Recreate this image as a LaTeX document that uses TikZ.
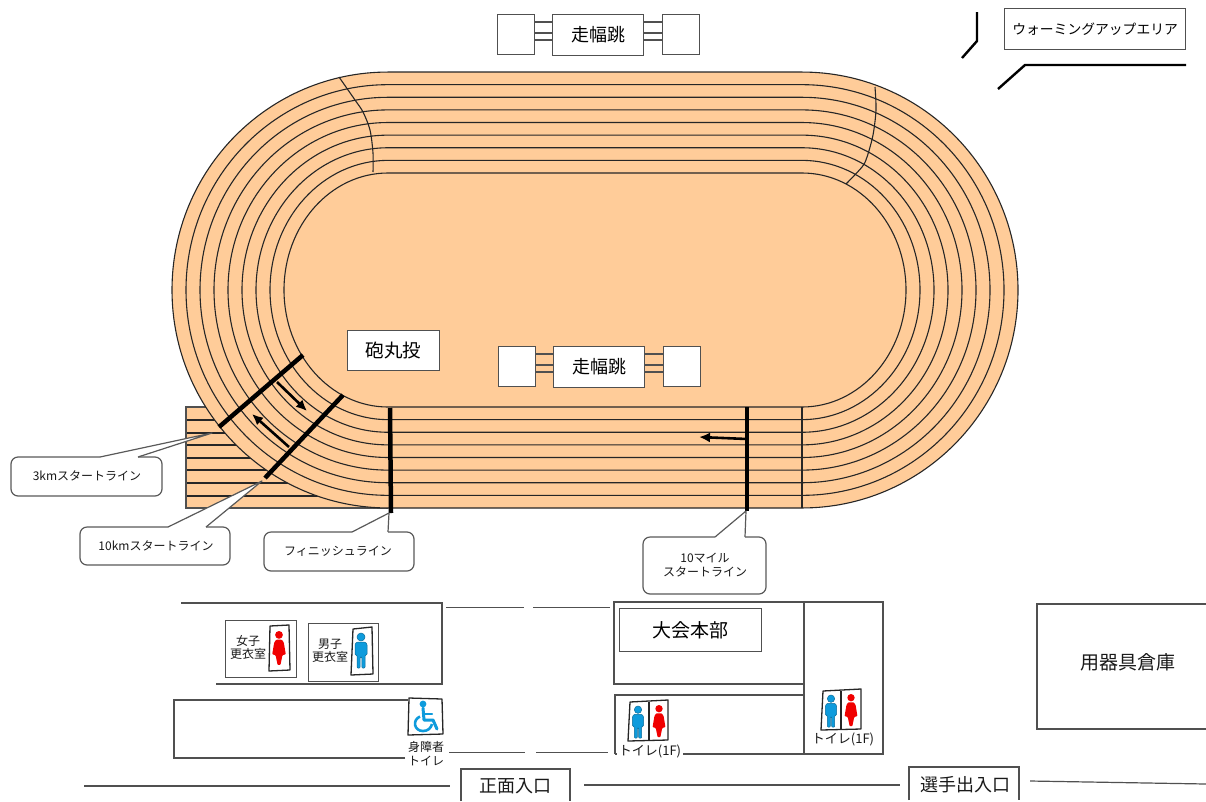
\documentclass[tikz,border=0pt]{standalone}
\usepackage{fontspec}
\setmainfont{Noto Sans CJK JP}
\usetikzlibrary{arrows.meta}
\definecolor{track}{HTML}{FFCC99}
\definecolor{wall}{HTML}{505050}
\definecolor{manblue}{HTML}{0E9BDC}
\definecolor{wred}{HTML}{F00000}
\tikzset{
  lane/.style={draw=black!85,line width=1.1pt},
  wallline/.style={draw=wall,line width=1.2pt},
  boxed/.style={draw=wall,fill=white,line width=1.2pt},
  label/.style={inner sep=0pt,align=center,text=black!90},
  sketch/.style={draw=black!85,line width=1.3pt,line join=round},
  thickbar/.style={draw=black,line width=4.5pt},
  runarrow/.style={draw=black,line width=2.6pt,-{Latex[length=11pt,width=10pt]}},
  bubble/.style={draw=black!65,fill=white,line width=1.2pt,line join=round},
}
\newcommand{\fs}[1]{\fontsize{#1}{#1}\selectfont}
\newcommand{\personman}[3]{\begin{scope}[shift={(#1,#2)},x=#3pt,y=-#3pt]
  \fill[manblue,draw=manblue!70!black,line width=.5pt] (0,4) circle[radius=4];
  \fill[manblue,draw=manblue!70!black,line width=.5pt,rounded corners=1pt]
    (-4,9)--(4,9)--(6,11)--(6,22)--(4,22)--(4,35)--(.8,35)--(.8,24)--(-.8,24)--(-.8,35)--(-4,35)--(-4,22)--(-6,22)--(-6,11)--cycle;
\end{scope}}
\newcommand{\personwoman}[3]{\begin{scope}[shift={(#1,#2)},x=#3pt,y=-#3pt]
  \fill[wred] (0,4) circle[radius=4];
  \fill[wred,rounded corners=.8pt]
    (-3,9)--(3,9)--(5,12)--(7,24)--(3.5,25)--(1.5,35)--(-1.5,35)--(-3.5,25)--(-7,24)--(-5,12)--cycle;
\end{scope}}
\newcommand{\jumpunit}[3]{%
  \begin{scope}[shift={(#1,#2)}]
  \draw[wallline] (36,8)--(56,8) (36,19)--(56,19) (36,26)--(56,26);
  \draw[wallline] (147,8)--(165,8) (147,19)--(165,19) (147,26)--(165,26);
  \node[boxed,minimum width=37pt,minimum height=40pt,inner sep=0pt,anchor=north west] (#3l) at (0,0) {};
  \node[boxed,minimum width=37pt,minimum height=40pt,inner sep=0pt,anchor=north west] (#3r) at (165,0) {};
  \node[boxed,minimum width=91pt,minimum height=41pt,inner sep=0pt,anchor=north west,font=\fs{18}] (#3) at (55,0) {走幅跳};
  \end{scope}}
\begin{document}
\begin{tikzpicture}[x=1pt,y=-1pt]
\useasboundingbox (0,0) rectangle (1206,801);
% straight extension
\fill[track] (186,407) rectangle (388,508);
\foreach \yy in {420,433,445,458,470,483,496}{\draw[lane] (186,\yy)--(388,\yy);}
\draw[wallline] (388,407)--(186,407)--(186,508)--(388,508);
% track body
\fill[track] (802,72) arc[start angle=-90,end angle=90,x radius=216,y radius=218]
  -- (388,508) arc[start angle=90,end angle=270,x radius=216,y radius=218] -- cycle;
\foreach \i in {0,...,8}{
  \pgfmathsetmacro{\rx}{104+14*\i}
  \pgfmathsetmacro{\ry}{117+12.62*\i}
  \draw[lane] (802,290-\ry) arc[start angle=-90,end angle=90,x radius=\rx,y radius=\ry]
    -- (388,290+\ry) arc[start angle=90,end angle=270,x radius=\rx,y radius=\ry] -- cycle;
}
\draw[lane] (802,407)--(802,508);
% stagger curves
\draw[lane] plot[smooth] coordinates {(339,77)(355,100)(363,112)(370,130)(373,153)(373,172)};
\draw[lane] plot[smooth] coordinates {(875,87)(876,110)(873,135)(867,157)(862,167)(846,184)};
% start lines
\coordinate (k3a) at (219,427); \coordinate (k3b) at (303,355);
\coordinate (k10a) at (265,478); \coordinate (k10b) at (343,395);
\coordinate (fina) at (390,408); \coordinate (finb) at (391,513);
\coordinate (milea) at (747,407); \coordinate (mileb) at (747,511);
\draw[thickbar] (k3a)--(k3b);
\draw[thickbar] (k10a)--(k10b);
\draw[thickbar] (fina)--(finb);
\draw[thickbar] (milea)--(mileb);
% running arrows
\coordinate (ra1) at (277,382); \coordinate (ra2) at (307,411);
\coordinate (rb1) at (289,447); \coordinate (rb2) at (252,414);
\coordinate (rc1) at (747,439); \coordinate (rc2) at (699,437);
\draw[runarrow] (ra1)--(ra2);
\draw[runarrow] (rb1)--(rb2);
\draw[runarrow] (rc1)--(rc2);
% field events
\node[boxed,minimum width=92pt,minimum height=40pt,inner sep=0pt,anchor=north west,font=\fs{18.5}] (shot) at (347,330) {砲丸投};
\jumpunit{497}{14}{jumpa}
\jumpunit{498}{346}{jumpb}
% warm up
\node[boxed,minimum width=181pt,minimum height=41pt,inner sep=0pt,anchor=north west,font=\fs{13.8}] (warm) at (1004,8) {ウォーミングアップエリア};
\draw[draw=black,line width=2.4pt] (977,12)--(977,41)--(962,58);
\draw[draw=black,line width=2.4pt] (1186,65)--(1025,65)--(998,89);
% callouts
\coordinate (t3) at (212,433);
\coordinate (t10) at (262,481);
\coordinate (tf) at (389,513);
\coordinate (tm) at (746,511);
\draw[bubble,rounded corners=7pt] (100,457)--(11,457)--(11,496)--(162,496)--(162,457)--(138,457);
\draw[bubble] (100,457)--(t3)--(138,457);
\fill[white] (101,458) rectangle (137,461);
\node[label,font=\fs{12}] (c3) at (87,476) {3kmスタートライン};
\draw[bubble,rounded corners=7pt] (168,527)--(80,527)--(80,565)--(230,565)--(230,527)--(206,527);
\draw[bubble] (168,527)--(t10)--(206,527);
\fill[white] (169,528) rectangle (205,531);
\node[label,font=\fs{12}] (c10) at (156,546) {10kmスタートライン};
\draw[bubble,rounded corners=7pt] (352,532)--(264,532)--(264,571)--(414,571)--(414,532)--(388,532);
\draw[bubble] (352,532)--(tf)--(388,532);
\fill[white] (353,533) rectangle (387,536);
\node[label,font=\fs{12}] (cf) at (338,551) {フィニッシュライン};
\draw[bubble,rounded corners=7pt] (715,537)--(643,537)--(643,594)--(766,594)--(766,537)--(745,537);
\draw[bubble] (715,537)--(tm)--(745,537);
\fill[white] (716,538) rectangle (744,541);
\node[label,font=\fs{12}] (cm) at (705,565) {10マイル\\[2pt]スタートライン};
% buildings left
\draw[wallline] (181,603)--(442,603)--(442,684)--(216,684);
\node[boxed,minimum width=71pt,minimum height=57pt,inner sep=0pt,anchor=north west] (rwomen) at (225,620) {};
\node[boxed,minimum width=70pt,minimum height=58pt,inner sep=0pt,anchor=north west] (rmen) at (308,623) {};
\node[label,font=\fs{12}] (twomen) at (248,647) {女子\\[1pt]更衣室};
\node[label,font=\fs{12}] (tmen) at (330,651) {男子\\[1pt]更衣室};
\draw[sketch] (270,626)--(289,625)--(290,670)--(269,671)--cycle;
\personwoman{279}{631}{.97}
\draw[sketch] (353,629)--(372,627)--(373,674)--(351,675)--cycle;
\personman{361}{633}{1}
\draw[wallline] (405,758)--(174,758)--(174,700)--(408,700);
\draw[sketch,fill=white] (409,698)--(442,699)--(443,734)--(408,735)--cycle;
\draw[manblue,line width=3pt,line cap=round,line join=round] (423,708)--(424,720)--(433,720)--(437,729);
\draw[manblue,line width=2.4pt,line cap=round] (424,714)--(432,714);
\fill[manblue] (423,704) circle[radius=3.4];
\draw[manblue,line width=2.6pt] (420,716.5) .. controls (412,720) and (414,731) .. (423,731) .. controls (428,731) and (431,728) .. (432,724);
\node[label,fill=white,font=\fs{12}] (tacc) at (426,754) {身障者\\[2pt]トイレ};
% gaps lines
\draw[wallline,line width=1pt] (446,607)--(524,607) (533,607)--(610,607)
  (449,752)--(525,752) (536,752)--(608,752);
% HQ
\draw[wallline] (614,602) rectangle (804,684);
\draw[wallline] (804,602)--(883,602)--(883,754)--(804,754)--(804,602);
\draw[wallline] (615,754)--(615,695)--(804,695)--(804,754)--(615,754);
\node[boxed,minimum width=142pt,minimum height=43pt,inner sep=0pt,anchor=north west,font=\fs{19}] (hq) at (619,608) {大会本部};
\draw[sketch] (630,702)--(668,700)--(668,740)--(628,741)--cycle;
\draw[sketch] (649,702)--(649,740);
\personman{638}{706}{.92}
\personwoman{659}{705}{.92}
\node[label,fill=white,font=\fs{13},inner sep=1.5pt] (tq) at (650,751) {トイレ(1F)};
\draw[sketch] (823,691)--(861,689)--(861,729)--(821,730)--cycle;
\draw[sketch] (841,691)--(841,729);
\personman{831}{695}{.92}
\personwoman{851}{694}{.92}
\node[label,font=\fs{13}] (tr) at (843,739) {トイレ(1F)};
% storage
\draw[wallline] (1206,604)--(1037,604)--(1037,729)--(1206,729);
\node[label,font=\fs{19}] (store) at (1128,662) {用器具倉庫};
% bottom
\draw[wallline] (84,786)--(450,786);
\draw[wallline] (584,785)--(900,785);
\draw[wallline] (1030,781)--(1206,784);
\draw[wallline] (461,801)--(461,769)--(570,769)--(570,801);
\node[label,font=\fs{18}] (mainent) at (515,786) {正面入口};
\draw[wallline] (909,800)--(909,767)--(1019,767)--(1019,800);
\node[label,font=\fs{18}] (athent) at (965,785) {選手出入口};
\end{tikzpicture}
\end{document}
